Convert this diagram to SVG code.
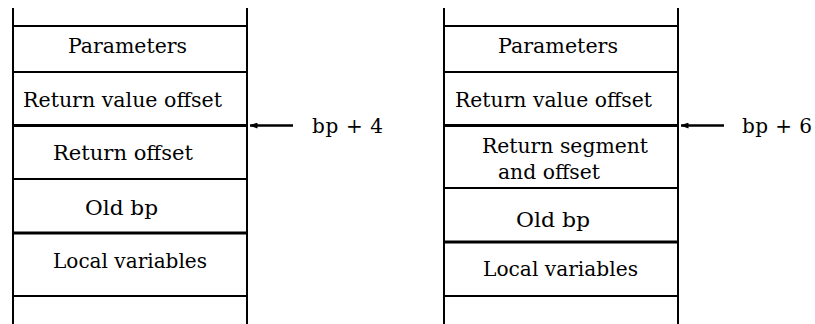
<svg xmlns="http://www.w3.org/2000/svg" width="815" height="324" viewBox="0 0 815 324">
<style>
.v{stroke:#000;stroke-width:2;fill:none}
.h{stroke:#000;stroke-width:2;fill:none}
.hk{stroke:#000;stroke-width:3;fill:none}
.t{font-family:'DejaVu Serif','Liberation Serif',serif;font-size:20px;fill:#000}
.arr{stroke:#000;stroke-width:2.5;fill:none;marker-end:url(#ah)}
</style>
<defs>
<marker id="ah" markerWidth="8" markerHeight="6" refX="7.5" refY="3" orient="auto" markerUnits="userSpaceOnUse">
<path d="M0,0 L8,3 L0,6 Z" fill="#000"/>
</marker>
</defs>
<rect width="815" height="324" fill="#fff"/>
<g id="stack-left">
<line class="v" x1="13" y1="8" x2="13" y2="324"/>
<line class="v" x1="247" y1="8" x2="247" y2="324"/>
<line class="h" x1="13" y1="26" x2="247" y2="26"/>
<line class="h" x1="13" y1="72" x2="247" y2="72"/>
<line class="hk" x1="13" y1="125.5" x2="247" y2="125.5"/>
<line class="h" x1="13" y1="179" x2="247" y2="179"/>
<line class="hk" x1="13" y1="233" x2="247" y2="233"/>
<line class="h" x1="13" y1="296" x2="247" y2="296"/>
</g>
<g id="left-parameters"><text class="t" x="68" y="53" textLength="119" lengthAdjust="spacingAndGlyphs">Parameters</text></g>
<g id="left-return-value"><text class="t" x="23" y="107" textLength="199" lengthAdjust="spacingAndGlyphs">Return value offset</text></g>
<g id="left-return-offset"><text class="t" x="53" y="160" textLength="140" lengthAdjust="spacingAndGlyphs">Return offset</text></g>
<g id="left-old-bp"><text class="t" x="85" y="215" textLength="73" lengthAdjust="spacingAndGlyphs">Old bp</text></g>
<g id="left-locals"><text class="t" x="53" y="268" textLength="154" lengthAdjust="spacingAndGlyphs">Local variables</text></g>
<g id="left-bp4"><text class="t" x="312" y="133" textLength="71" lengthAdjust="spacing">bp + 4</text></g>

<g id="stack-right">
<line class="v" x1="444" y1="8" x2="444" y2="324"/>
<line class="v" x1="678" y1="8" x2="678" y2="324"/>
<line class="h" x1="444" y1="26" x2="678" y2="26"/>
<line class="h" x1="444" y1="72" x2="678" y2="72"/>
<line class="hk" x1="444" y1="125.5" x2="678" y2="125.5"/>
<line class="h" x1="444" y1="188" x2="678" y2="188"/>
<line class="hk" x1="444" y1="242" x2="678" y2="242"/>
<line class="h" x1="444" y1="296" x2="678" y2="296"/>
</g>
<g id="right-parameters"><text class="t" x="498" y="53" textLength="120" lengthAdjust="spacingAndGlyphs">Parameters</text></g>
<g id="right-return-value"><text class="t" x="455" y="107" textLength="197" lengthAdjust="spacingAndGlyphs">Return value offset</text></g>
<g id="right-return-seg"><text class="t" x="482" y="153" textLength="166" lengthAdjust="spacingAndGlyphs">Return segment</text><text class="t" x="498" y="179" textLength="102" lengthAdjust="spacingAndGlyphs">and offset</text></g>
<g id="right-old-bp"><text class="t" x="516" y="227" textLength="74" lengthAdjust="spacingAndGlyphs">Old bp</text></g>
<g id="right-locals"><text class="t" x="483" y="276" textLength="155" lengthAdjust="spacingAndGlyphs">Local variables</text></g>
<g id="right-bp6"><text class="t" x="742" y="133" textLength="70" lengthAdjust="spacing">bp + 6</text></g>

<g id="connectors">
<line class="arr" x1="293" y1="125.5" x2="250" y2="125.5"/>
<line class="arr" x1="724" y1="125.5" x2="681" y2="125.5"/>
</g>
</svg>
